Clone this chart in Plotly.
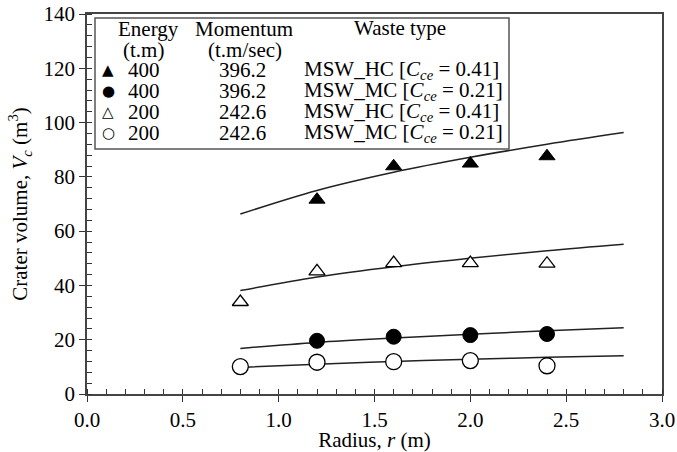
import plotly.graph_objects as go

# ---------------- data ----------------
r_hc400 = [1.2, 1.6, 2.0, 2.4]
v_hc400 = [71.6, 83.9, 84.9, 87.6]
r_mc400 = [1.2, 1.6, 2.0, 2.4]
v_mc400 = [19.6, 21.1, 21.7, 22.1]
r_hc200 = [0.8, 1.2, 1.6, 2.0, 2.4]
v_hc200 = [33.9, 45.2, 48.2, 48.2, 48.0]
r_mc200 = [0.8, 1.2, 1.6, 2.0, 2.4]
v_mc200 = [10.1, 11.7, 11.9, 12.3, 10.4]

# fitted curves
r_fit = [0.8, 1.2, 1.6, 2.0, 2.4, 2.8]
fit_hc400 = [66.3, 75.0, 81.7, 87.2, 92.0, 96.3]
fit_hc200 = [38.1, 43.1, 46.9, 50.0, 52.8, 55.2]
fit_mc400 = [16.8, 19.0, 20.6, 22.0, 23.3, 24.4]
fit_mc200 = [9.8, 11.0, 12.0, 12.8, 13.5, 14.1]

legend_symbols = ["\u25B2", "\u25CF", "\u25B3", "\u25CB"]
legend_energy = ["400", "400", "200", "200"]
legend_momentum = ["396.2", "396.2", "242.6", "242.6"]
legend_waste = [
    "MSW_HC [<i>C</i><sub><i>ce</i></sub> = 0.41]",
    "MSW_MC [<i>C</i><sub><i>ce</i></sub> = 0.21]",
    "MSW_HC [<i>C</i><sub><i>ce</i></sub> = 0.41]",
    "MSW_MC [<i>C</i><sub><i>ce</i></sub> = 0.21]",
]

FONT = "Times New Roman, Liberation Serif, DejaVu Serif, serif"
FS = 21

# ---------------- layout geometry (pixels) ----------------
W, H = 677, 452
L, R, T, B = 87, 662, 14, 394


def px(xp):
    return (xp - L) / (R - L)


def py(yp):
    return (B - yp) / (B - T)


fig = go.Figure()

line_style = dict(color="#222222", width=1.5)
for fy in [fit_hc400, fit_hc200, fit_mc400, fit_mc200]:
    fig.add_trace(go.Scatter(x=r_fit, y=fy, mode="lines", line=dict(shape="spline", **line_style),
                             showlegend=False, hoverinfo="skip"))

fig.add_trace(go.Scatter(x=r_hc400, y=v_hc400, mode="markers", showlegend=False,
                         marker=dict(symbol="triangle-up", size=14, color="black",
                                     line=dict(color="black", width=1))))
fig.add_trace(go.Scatter(x=r_hc200, y=v_hc200, mode="markers", showlegend=False,
                         marker=dict(symbol="triangle-up", size=14, color="white",
                                     line=dict(color="black", width=1.3))))
fig.add_trace(go.Scatter(x=r_mc400, y=v_mc400, mode="markers", showlegend=False,
                         marker=dict(symbol="circle", size=15, color="black",
                                     line=dict(color="black", width=1))))
fig.add_trace(go.Scatter(x=r_mc200, y=v_mc200, mode="markers", showlegend=False,
                         marker=dict(symbol="circle", size=16, color="white",
                                     line=dict(color="black", width=1.3))))

# invisible trace to carry the overlay axes (inner half of major ticks)
fig.add_trace(go.Scatter(x=[None], y=[None], xaxis="x2", yaxis="y2", showlegend=False,
                         hoverinfo="skip", mode="markers"))

tickfont = dict(family=FONT, size=FS, color="black")
axis_common = dict(showgrid=False, zeroline=False, showline=True, linecolor="#444444",
                   linewidth=1.5, mirror=True, ticks="outside", ticklen=6, tickwidth=1.2,
                   tickcolor="#333333", tickfont=tickfont, automargin=False)

fig.update_layout(
    width=W, height=H,
    margin=dict(l=L, r=W - R, t=T, b=H - B, autoexpand=False),
    paper_bgcolor="white", plot_bgcolor="white",
    font=dict(family=FONT, size=FS, color="black"),
    xaxis=dict(range=[0, 3], dtick=0.5, tickformat=".1f",
               title=dict(text="Radius, <i>r</i> (m)", font=dict(family=FONT, size=FS), standoff=0),
               minor=dict(ticks="inside", ticklen=5, dtick=0.1, tickwidth=1.2, tickcolor="#333333"),
               **axis_common),
    yaxis=dict(range=[0, 140], dtick=20,
               title=dict(text="Crater volume, <i>V</i><sub><i>c</i></sub> (m<sup>3</sup>)",
                          font=dict(family=FONT, size=FS), standoff=10),
               minor=dict(ticks="inside", ticklen=5, dtick=4, tickwidth=1.2, tickcolor="#333333"),
               **axis_common),
    xaxis2=dict(overlaying="x", anchor="y2", range=[0, 3], dtick=0.5, ticks="inside", ticklen=5,
                tickwidth=1.2, tickcolor="#333333", showticklabels=False, showgrid=False,
                zeroline=False, showline=False),
    yaxis2=dict(overlaying="y", anchor="x2", range=[0, 140], dtick=20, ticks="inside", ticklen=5,
                tickwidth=1.2, tickcolor="#333333", showticklabels=False, showgrid=False,
                zeroline=False, showline=False),
)

# legend table box
fig.add_shape(type="rect", xref="paper", yref="paper",
              x0=px(95), x1=px(509), y0=py(149), y1=py(18),
              line=dict(color="#555555", width=1.5), fillcolor="white", layer="above")

annots = []


def ann(text, xp, yp, xanchor="center", size=FS, font=FONT):
    annots.append(dict(text=text, x=px(xp), y=py(yp), xref="paper", yref="paper",
                       xanchor=xanchor, yanchor="middle", showarrow=False,
                       font=dict(family=font, size=size, color="black")))


ann("Energy", 148, 29)
ann("(t.m)", 143, 50)
ann("Momentum", 244, 29)
ann("(t.m/sec)", 245, 50)
ann("Waste type", 400, 28)

row_y = [70, 91, 112, 133]
for i in range(4):
    ann(legend_symbols[i], 108, row_y[i], size=15, font="DejaVu Sans")
    ann(legend_energy[i], 144, row_y[i])
    ann(legend_momentum[i], 242, row_y[i])
    ann(legend_waste[i], 302, row_y[i], xanchor="left")

fig.update_layout(annotations=annots)

fig.write_html("out.html")
